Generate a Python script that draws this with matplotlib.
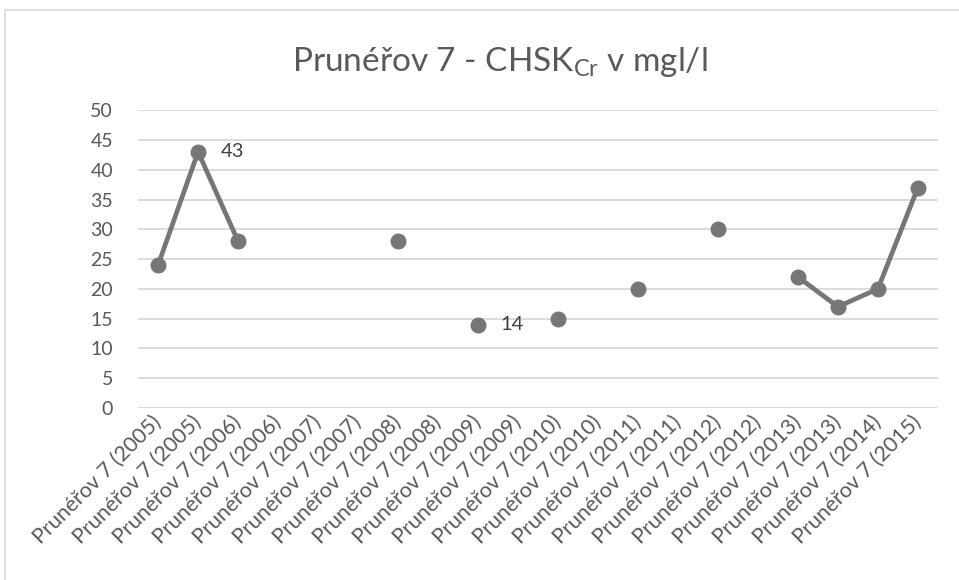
import numpy as np
import matplotlib.pyplot as plt
from matplotlib.patches import Rectangle

plt.rcParams['font.family'] = ['Lato', 'DejaVu Sans']
plt.rcParams['mathtext.fontset'] = 'custom'
plt.rcParams['mathtext.rm'] = 'Lato'
plt.rcParams['mathtext.it'] = 'Lato'

years = ['2005', '2005', '2006', '2006', '2007', '2007', '2008', '2008',
         '2009', '2009', '2010', '2010', '2011', '2011', '2012', '2012',
         '2013', '2013', '2014', '2015']
labels = ['Prunéřov 7 (%s)' % y for y in years]
values = [24, 43, 28, None, None, None, 28, None, 14, None,
          15, None, 20, None, 30, None, 22, 17, 20, 37]
shown = {1: '43', 8: '14'}

vals = np.array([np.nan if v is None else v for v in values], dtype=float)
x = np.arange(len(labels))

fig = plt.figure(figsize=(9.59, 5.8), dpi=100)
ax = fig.add_axes([0.144, 0.2966, 0.834, 0.5134])

grey = '#767676'
ax.plot(x, vals, color=grey, lw=3.4, marker='o', ms=10.5, solid_capstyle='round')

for i, txt in shown.items():
    ax.annotate(txt, (x[i], vals[i]), xytext=(16, 0), textcoords='offset points',
                va='center', ha='left', fontsize=14.5, color='#404040')

ax.set_xlim(-0.5, len(labels) - 0.5)
ax.set_ylim(0, 50)
ax.set_yticks(np.arange(0, 51, 5))
ax.set_xticks(x)
ax.set_xticklabels(labels, rotation=45, ha='right', va='center',
                   rotation_mode='anchor', fontsize=15.5, color='#595959')
ax.tick_params(axis='y', labelsize=14, labelcolor='#595959', length=0, pad=18)
ax.tick_params(axis='x', length=0, pad=8)
ax.grid(axis='y', color='#d9d9d9', lw=1.3)
ax.set_axisbelow(True)
for s in ax.spines.values():
    s.set_visible(False)

fig.text(0.521, 0.893, r'Prunéřov 7 - CHSK$_{\mathrm{Cr}}$ v mgl/l',
         ha='center', va='center', fontsize=24, color='#595959')

# chart frame (cut off at right and bottom)
fig.patches.append(Rectangle((0.0047, -0.1), 1.1, 1.1 - 0.017, transform=fig.transFigure,
                             fill=False, edgecolor='#d9d9d9', lw=1.2))

fig.savefig('out.png', dpi=100)
